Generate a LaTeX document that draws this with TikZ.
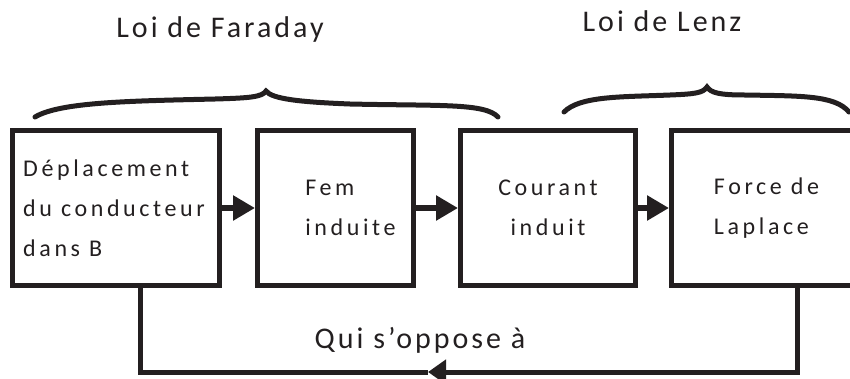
\documentclass[tikz,border=0pt]{standalone}
\usepackage{fontspec}
\setmainfont{Carlito}[LetterSpace=10]
\usetikzlibrary{shapes,arrows,positioning}
\usetikzlibrary{arrows.meta}
\definecolor{encre}{RGB}{35,31,32}
\tikzstyle{bloc} = [draw=encre, line width=5pt, minimum height=155pt, inner sep=0pt]
\tikzstyle{txt} = [align=left, inner sep=0pt, text=encre, font=\addfontfeature{LetterSpace=15}\fontsize{24}{40}\selectfont]
\tikzstyle{titre} = [inner sep=0pt, anchor=base, text=encre, font=\fontsize{30}{36}\selectfont]
\tikzstyle{line} = [draw=encre, line width=6pt, -{Triangle[length=22pt, width=24pt]}]
\tikzstyle{retour} = [draw=encre, line width=5pt]
\tikzstyle{accol} = [draw=encre, line width=5pt, line cap=round]

\begin{document}
\begin{tikzpicture}[x=1pt, y=-1pt]
    \useasboundingbox (0,0) rectangle (850,378);

    \node[bloc, minimum width=206.5pt] (depl) at (116,208) {};
    \node[bloc, minimum width=156pt] (fem) at (335.5,208) {};
    \node[bloc, minimum width=175pt] (courant) at (548,208) {};
    \node[bloc, minimum width=190pt] (laplace) at (766.5,208) {};

    \node[txt] (t_depl) at ([xshift=-2pt]depl.center) {Déplacement\\du conducteur\\dans B};
    \node[txt] (t_fem) at ([xshift=15pt]fem.center) {Fem\\induite};
    \node[txt, align=center] (t_courant) at (courant.center) {Courant\\induit};
    \node[txt] (t_laplace) at (laplace.center) {Force de\\Laplace};

    \draw[line] (depl) -- (fem);
    \draw[line] (fem) -- (courant);
    \draw[line] (courant) -- (laplace);

    \node[titre] (faraday) at (220,37) {Loi de Faraday};
    \node[titre] (lenz) at (662,31) {Loi de Lenz};
    \node[titre] (oppose) at (420,348) {Qui s’oppose à};

    \draw[accol] (35,117) .. controls (60,102) and (130,101) .. (215,99)
        .. controls (250,98) and (262,97) .. (266,91)
        .. controls (272,99) and (300,102) .. (350,104)
        .. controls (440,106) and (485,103) .. (498,117);
    \draw[accol] (564,112) .. controls (580,96) and (620,97) .. (670,95)
        .. controls (695,94) and (703,93) .. (707,87)
        .. controls (711,93) and (720,95) .. (745,95)
        .. controls (800,96) and (835,95) .. (849,112);

    \coordinate (fb_gauche) at (140,372);
    \coordinate (fb_droite) at (797,372);
    \coordinate (fb_fleche) at (428,372);
    \draw[retour, -{Triangle[length=18pt, width=24pt]}] (laplace.south -| fb_droite) -- (fb_droite) -- (fb_fleche);
    \draw[retour] (fb_fleche) -- (fb_gauche) -- (depl.south -| fb_gauche);
\end{tikzpicture}
\end{document}
